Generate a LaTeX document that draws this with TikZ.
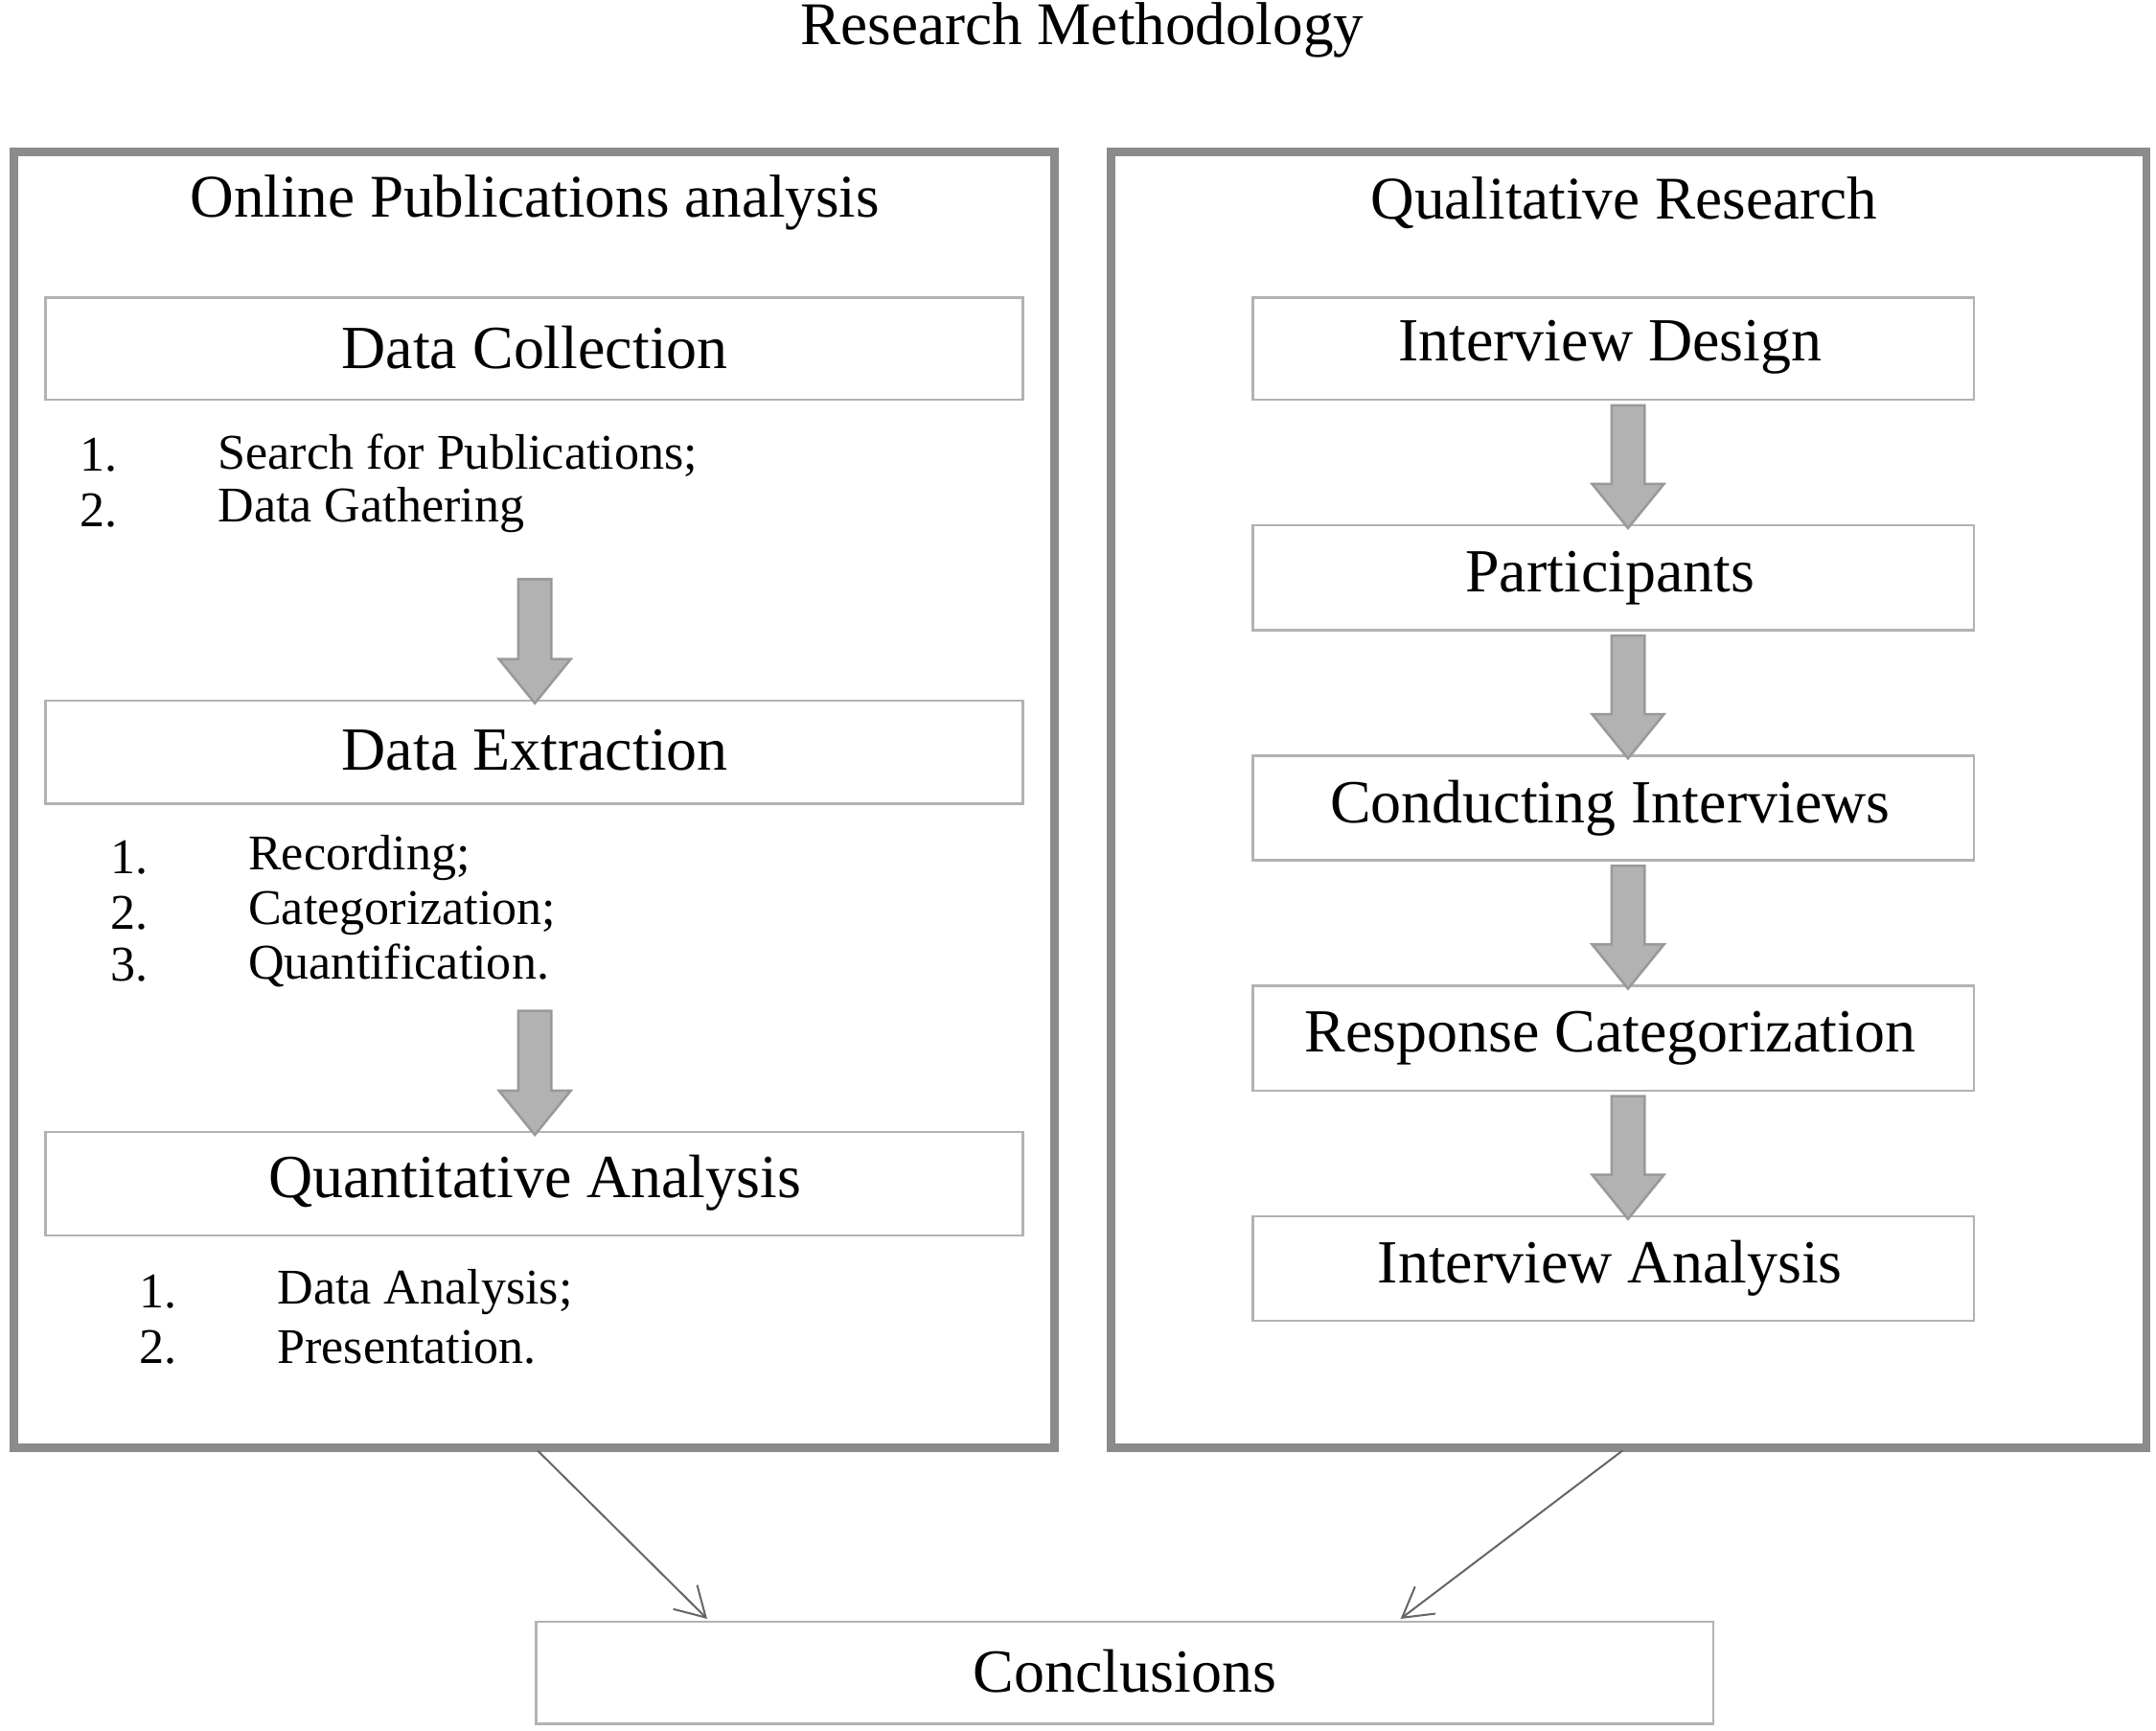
\documentclass[tikz,border=0pt]{standalone}
\usepackage{fontspec}
\setmainfont{Liberation Serif}
\usetikzlibrary{arrows.meta}
\newcommand{\garrow}[3]{%
  \fill[gray!60,draw=gray!80,line width=1pt] (#1-12,#2) -- (#1+12,#2) -- (#1+12,#3-32) -- (#1+26,#3-32) -- (#1,#3) -- (#1-26,#3-32) -- (#1-12,#3-32) -- cycle;}
\begin{document}
\begin{tikzpicture}[x=0.02cm,y=-0.02cm,
  outer/.style={draw=gray!70!black!70,line width=3.5pt},
  stepbox/.style={draw=gray!60,line width=1pt},
  big/.style={font=\fontsize{25.3}{28}\selectfont},
  head/.style={font=\fontsize{25}{28}\selectfont},
  item/.style={font=\fontsize{20.6}{24}\selectfont,anchor=west},
  conn/.style={draw=gray!80!black,line width=0.8pt,-{Straight Barb[length=12pt,width=14pt]}}]
\useasboundingbox (0,0) rectangle (1564,1255);
\node[head] (title) at (785,22) {Research Methodology};
\draw[outer] (10,110) rectangle (765,1050);
\draw[outer] (806,110) rectangle (1557,1050);
\coordinate (lb) at (390,1052);
\coordinate (rb) at (1177,1052);
\node[head] (lh) at (388,147) {Online Publications analysis};
\node[head] (rh) at (1178,147) {Qualitative Research};
% left boxes
\draw[stepbox] (33,216) rectangle (742,290); \node[big] (dc) at (388,252) {Data Collection};
\draw[stepbox] (33,508) rectangle (742,583); \node[big] (de) at (388,544) {Data Extraction};
\draw[stepbox] (33,821) rectangle (742,896); \node[big] (qa) at (388,858) {Quantitative Analysis};
\node[item] (n1) at (52,330) {1.}; \node[item] (t1) at (152,330) {Search for Publications;};
\node[item] (n2) at (52,370) {2.}; \node[item] (t2) at (152,370) {Data Gathering};
\node[item] (n3) at (74,622) {1.}; \node[item] (t3) at (174,622) {Recording;};
\node[item] (n4) at (74,662) {2.}; \node[item] (t4) at (174,662) {Categorization;};
\node[item] (n5) at (74,700) {3.}; \node[item] (t5) at (174,700) {Quantification.};
\node[item] (n6) at (95,937) {1.}; \node[item] (t6) at (195,937) {Data Analysis;};
\node[item] (n7) at (95,977) {2.}; \node[item] (t7) at (195,977) {Presentation.};
\garrow{388}{420}{510}
\garrow{388}{733}{823}
% right boxes
\draw[stepbox] (909,216) rectangle (1432,290); \node[big] (r1) at (1168,252) {Interview Design};
\draw[stepbox] (909,381) rectangle (1432,457); \node[big] (r2) at (1168,419) {Participants};
\draw[stepbox] (909,548) rectangle (1432,624); \node[big] (r3) at (1168,586) {Conducting Interviews};
\draw[stepbox] (909,715) rectangle (1432,791); \node[big] (r4) at (1168,753) {Response Categorization};
\draw[stepbox] (909,882) rectangle (1432,958); \node[big] (r5) at (1168,920) {Interview Analysis};
\garrow{1181}{294}{383}
\garrow{1181}{461}{550}
\garrow{1181}{628}{717}
\garrow{1181}{795}{884}
% conclusions
\draw[stepbox] (389,1176) rectangle (1243,1250);
\node[big] (co) at (816,1212) {Conclusions};
\coordinate (ca) at (513,1174);
\coordinate (cb) at (1016,1174);
\draw[conn] (lb) -- (ca);
\draw[conn] (rb) -- (cb);
\end{tikzpicture}
\end{document}
